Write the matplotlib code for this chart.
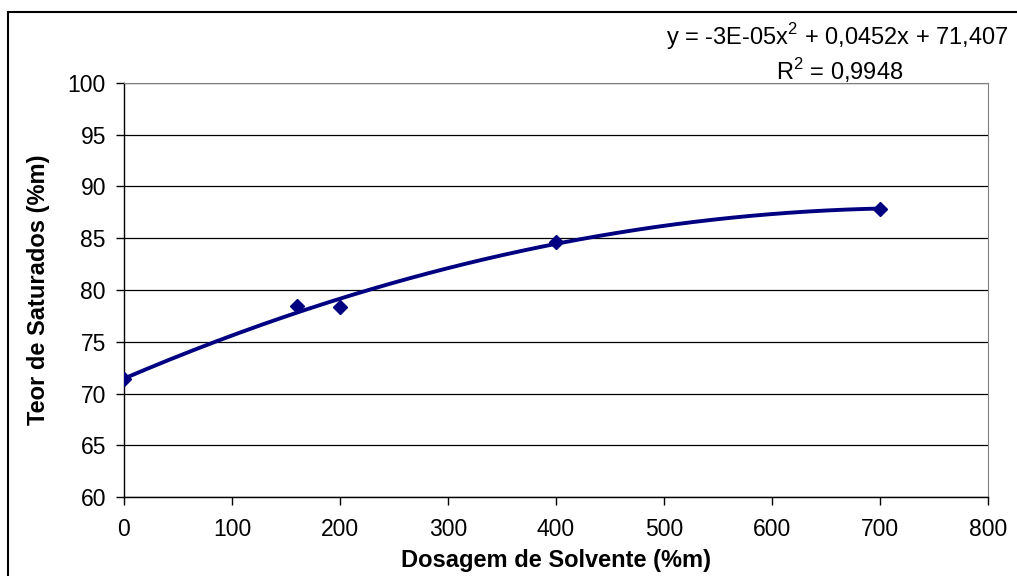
import numpy as np
import matplotlib
matplotlib.use("Agg")
import matplotlib.pyplot as plt
from matplotlib.patches import Rectangle

# dados
dosagem = [0, 160, 200, 400, 700]          # Dosagem de Solvente (%m)
saturados = [71.4, 78.5, 78.4, 84.6, 87.85]  # Teor de Saturados (%m)
x_ticks = [0, 100, 200, 300, 400, 500, 600, 700, 800]
y_ticks = [60, 65, 70, 75, 80, 85, 90, 95, 100]
eq_txt = "y = -3E-05x$^2$ + 0,0452x + 71,407"
r2_txt = "R$^2$ = 0,9948"

plt.rcParams['font.family'] = ['Liberation Sans', 'DejaVu Sans']
plt.rcParams['mathtext.fontset'] = 'custom'
plt.rcParams['mathtext.rm'] = 'Liberation Sans'

navy = '#000080'

fig = plt.figure(figsize=(10.17, 5.76), dpi=100)
ax = fig.add_axes([0.1219, 0.137, 0.8496, 0.719])

# linha de tendencia polinomial (ordem 2)
coef = np.polyfit(dosagem, saturados, 2)
xx = np.linspace(0, 700, 200)
ax.plot(xx, np.polyval(coef, xx), color=navy, lw=2.8, zorder=3)
ax.plot(dosagem, saturados, 'D', color=navy, ms=7.5, zorder=4)

ax.set_xlim(0, 800)
ax.set_ylim(60, 100)
ax.set_xticks(x_ticks)
ax.set_yticks(y_ticks)
ax.tick_params(labelsize=16.5, length=6, width=1, color='black')
ax.tick_params(axis='x', pad=9)
ax.tick_params(axis='y', pad=7)
ax.yaxis.grid(True, color='black', lw=0.9)
ax.set_axisbelow(True)

for s in ['top', 'right']:
    ax.spines[s].set_color('#808080')
for s in ['left', 'bottom']:
    ax.spines[s].set_color('black')
    ax.spines[s].set_linewidth(1.0)

ax.set_xlabel("Dosagem de Solvente (%m)", fontsize=17, fontweight='bold')
ax.set_ylabel("Teor de Saturados (%m)", fontsize=17, fontweight='bold')
ax.xaxis.label.set_verticalalignment('center')
ax.yaxis.label.set_verticalalignment('center')
ax.xaxis.set_label_coords(0.5, -0.152)
ax.yaxis.set_label_coords(-0.0995, 0.5)

fig.text(837 / 1017, 1 - 37 / 576, eq_txt, fontsize=17, ha='center', va='center')
fig.text(840 / 1017, 1 - 71 / 576, r2_txt, fontsize=17, ha='center', va='center')

# moldura do grafico
fig.patches.append(Rectangle((8 / 1017, -0.1), 1.2, 1.1 - 12 / 576,
                             transform=fig.transFigure, fill=False,
                             edgecolor='black', lw=1.5))

fig.savefig("out.png", dpi=100)
